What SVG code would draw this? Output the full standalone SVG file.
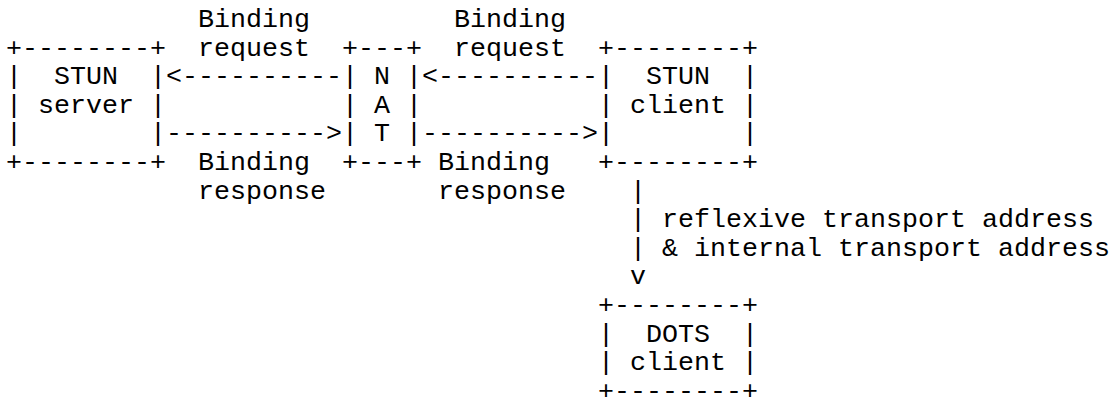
<svg xmlns="http://www.w3.org/2000/svg" width="1114" height="407" viewBox="0 0 1114 407">
<style>
text { font-family: "Liberation Mono", "Courier New", monospace; font-size: 26.667px; fill: #000; white-space: pre; }
</style>
<rect width="1114" height="407" fill="#fff"/>
<g id="stun-server">
<text x="6" y="55.6">+--------+</text>
<text x="6" y="84.2">|  STUN  |</text>
<text x="6" y="112.8">| server |</text>
<text x="6" y="141.4">|        |</text>
<text x="6" y="170">+--------+</text>
</g>
<g id="nat">
<text x="342" y="55.6">+---+</text>
<text x="342" y="84.2">| N |</text>
<text x="342" y="112.8">| A |</text>
<text x="342" y="141.4">| T |</text>
<text x="342" y="170">+---+</text>
</g>
<g id="stun-client">
<text x="598" y="55.6">+--------+</text>
<text x="598" y="84.2">|  STUN  |</text>
<text x="598" y="112.8">| client |</text>
<text x="598" y="141.4">|        |</text>
<text x="598" y="170">+--------+</text>
</g>
<g id="dots-client">
<text x="598" y="313">+--------+</text>
<text x="598" y="341.6">|  DOTS  |</text>
<text x="598" y="370.2">| client |</text>
<text x="598" y="398.8">+--------+</text>
</g>
<g id="connectors">
<text x="166" y="84.2">&lt;----------</text>
<text x="422" y="84.2">&lt;----------</text>
<text x="166" y="141.4">----------&gt;</text>
<text x="422" y="141.4">----------&gt;</text>
<text x="630" y="198.6">|</text>
<text x="630" y="227.2">|</text>
<text x="630" y="255.8">|</text>
<text x="630" y="284.4">v</text>
</g>
<g id="labels">
<text x="198" y="27">Binding</text>
<text x="198" y="55.6">request</text>
<text x="454" y="27">Binding</text>
<text x="454" y="55.6">request</text>
<text x="198" y="170">Binding</text>
<text x="198" y="198.6">response</text>
<text x="438" y="170">Binding</text>
<text x="438" y="198.6">response</text>
<text x="662" y="227.2">reflexive transport address</text>
<text x="662" y="255.8">&amp; internal transport address</text>
</g>
</svg>
